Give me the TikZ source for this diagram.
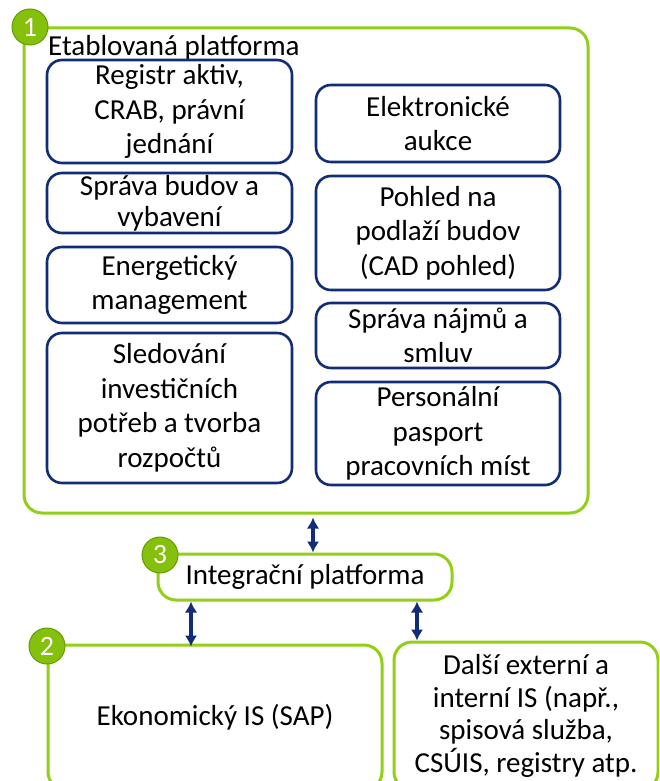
\documentclass[tikz,border=0pt]{standalone}
\usepackage{fontspec}
\setmainfont{Carlito}
\usetikzlibrary{arrows.meta}
\definecolor{limeline}{RGB}{146,208,24}
\definecolor{badgefill}{RGB}{132,192,12}
\definecolor{badgeline}{RGB}{98,158,0}
\definecolor{navy}{RGB}{18,45,120}
\begin{document}
\begin{tikzpicture}[x=1pt,y=-1pt,
  txt/.style={font=\fontsize{29}{34.5}\selectfont, align=center, inner sep=0pt},
  greenbox/.style={draw=limeline, line width=3pt, rounded corners=18pt, fill=white},
  bluebox/.style={txt, draw=navy, line width=2.6pt, rounded corners=15pt, fill=white},
  badge/.style={circle, fill=badgefill, draw=badgeline, line width=1pt,
    minimum size=36pt, inner sep=0pt, text=white, font=\fontsize{28}{28}\selectfont},
  dblarrow/.style={draw=navy, line width=3.6pt,
    {Latex[length=11pt,width=12.5pt]}-{Latex[length=11pt,width=12.5pt]}}]
\useasboundingbox (0,0) rectangle (659,781);
\clip (0,0) rectangle (659,781);

% established platform frame
\node[greenbox, minimum width=564pt, minimum height=485pt] (outer) at (306,270.5) {};
\node[txt, anchor=base west] (title) at (48,56) {Etablovaná platforma};

% left column of modules
\node[bluebox, minimum width=245pt, minimum height=103pt] (registr) at (169.5,111.5)
  {Registr aktiv,\\CRAB, právní\\jednání};
\node[bluebox, minimum width=245pt, minimum height=60pt] (budovy) at (169.5,203)
  {\raisebox{-3pt}{\shortstack{Správa budov a\\[3pt]vybavení}}};
\node[bluebox, minimum width=245pt, minimum height=76pt] (energie) at (169.5,285)
  {Energetický\\management};
\node[bluebox, minimum width=245pt, minimum height=150pt] (investice) at (169.5,408)
  {Sledování\\investičních\\potřeb a tvorba\\rozpočtů};

% right column of modules
\node[bluebox, minimum width=244pt, minimum height=77pt] (aukce) at (438,123.5)
  {Elektronické\\aukce};
\node[bluebox, minimum width=244pt, minimum height=114pt] (cad) at (438,233)
  {Pohled na\\podlaží budov\\(CAD pohled)};
\node[bluebox, minimum width=244pt, minimum height=65pt] (najmy) at (438,335.5)
  {Správa nájmů a\\smluv};
\node[bluebox, minimum width=244pt, minimum height=103pt] (pasport) at (438,433.5)
  {Personální\\pasport\\pracovních míst};

% integration layer
\node[greenbox, txt, minimum width=294pt, minimum height=46pt] (integ) at (305,577)
  {Integrační platforma};

% connected systems
\node[greenbox, txt, minimum width=334pt, minimum height=145pt] (sap) at (215,717.5)
  {Ekonomický IS (SAP)};
\node[greenbox, txt, minimum width=264pt, minimum height=148pt,
  font=\fontsize{29}{32.5}\selectfont] (dalsi) at (526,716)
  {Další externí a\\interní IS (např.,\\spisová služba,\\CSÚIS, registry atp.};

% numbered badges
\node[badge] (b1) at (30,27) {1};
\node[badge] (b3) at (160,555) {3};
\node[badge] (b2) at (47,646) {2};

% data flows
\draw[dblarrow, shorten <=3pt] (313,0 |- outer.south) -- (313,0 |- integ.north);
\draw[dblarrow] (191,0 |- integ.south) -- ([yshift=-3pt]191,0 |- sap.north);
\draw[dblarrow] (417,0 |- integ.south) -- (417,0 |- dalsi.north);
\end{tikzpicture}
\end{document}
